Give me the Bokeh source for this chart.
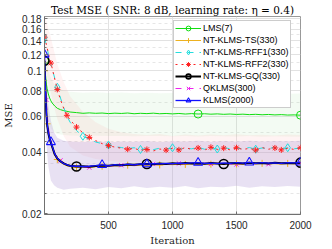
from bokeh.plotting import figure
from bokeh.models import (Range1d, FixedTicker, NumeralTickFormatter, Legend, LegendItem)
from bokeh.embed import file_html
from bokeh.resources import INLINE

# ---------------- data ----------------
iters = [0, 5, 10, 15, 20, 30, 40, 50, 60, 80, 100, 125, 150, 175, 200,
         250, 300, 350, 400, 450, 500, 550, 600, 650, 700, 750, 800, 850, 900, 950,
         1000, 1050, 1100, 1150, 1200, 1250, 1300, 1350, 1400, 1450, 1500, 1550,
         1600, 1650, 1700, 1750, 1800, 1850, 1900, 1950, 2000]

lms = [0.112, 0.100, 0.092, 0.086, 0.082, 0.077, 0.0735, 0.0712, 0.0695, 0.0672, 0.0655, 0.0645, 0.0638, 0.0633, 0.0628,
       0.0624, 0.0619, 0.0622, 0.0619, 0.0621, 0.0617, 0.0620, 0.0618, 0.0621, 0.0616, 0.0619, 0.0617, 0.0620, 0.0616, 0.0618,
       0.0615, 0.0618, 0.0614, 0.0617, 0.0614, 0.0616, 0.0613, 0.0615, 0.0612, 0.0614, 0.0611, 0.0613,
       0.0610, 0.0612, 0.0609, 0.0611, 0.0608, 0.0610, 0.0607, 0.0608, 0.0606]

ts = [0.100, 0.084, 0.070, 0.061, 0.055, 0.0490, 0.0460, 0.0440, 0.0420, 0.0386, 0.0368, 0.0356, 0.0348, 0.0343, 0.0340,
      0.0337, 0.0338, 0.0336, 0.0339, 0.0341, 0.0340, 0.0343, 0.0342, 0.0345, 0.0343, 0.0346, 0.0345, 0.0347, 0.0346, 0.0348,
      0.0347, 0.0349, 0.0348, 0.0350, 0.0348, 0.0350, 0.0349, 0.0351, 0.0349, 0.0351, 0.0350, 0.0348,
      0.0351, 0.0350, 0.0352, 0.0350, 0.0351, 0.0349, 0.0352, 0.0350, 0.0351]

rff1 = [0.145, 0.141, 0.137, 0.133, 0.129, 0.121, 0.114, 0.108, 0.102, 0.092, 0.083, 0.0735, 0.0660, 0.0600, 0.0560,
        0.0510, 0.0478, 0.0462, 0.0448, 0.0440, 0.0433, 0.0425, 0.0421, 0.0416, 0.0420, 0.0412, 0.0416, 0.0411, 0.0418, 0.0413,
        0.0420, 0.0414, 0.0417, 0.0415, 0.0422, 0.0413, 0.0419, 0.0414, 0.0421, 0.0415, 0.0418, 0.0414,
        0.0421, 0.0413, 0.0419, 0.0416, 0.0422, 0.0414, 0.0420, 0.0415, 0.0419]

rff2 = [0.146, 0.142, 0.138, 0.134, 0.130, 0.122, 0.115, 0.109, 0.103, 0.091, 0.081, 0.072, 0.0655, 0.0605, 0.0575,
        0.0530, 0.0497, 0.0472, 0.0455, 0.0440, 0.0430, 0.0423, 0.0418, 0.0413, 0.0417, 0.0408, 0.0412, 0.0405, 0.0414, 0.0409,
        0.0418, 0.0410, 0.0421, 0.0412, 0.0419, 0.0409, 0.0422, 0.0411, 0.0418, 0.0410, 0.0420, 0.0412,
        0.0417, 0.0409, 0.0421, 0.0413, 0.0419, 0.0410, 0.0418, 0.0412, 0.0420]

gq = [0.112, 0.088, 0.071, 0.061, 0.055, 0.0495, 0.0465, 0.0445, 0.0425, 0.0390, 0.0372, 0.0360, 0.0352, 0.0346, 0.0343,
      0.0340, 0.0341, 0.0339, 0.0342, 0.0344, 0.0343, 0.0346, 0.0345, 0.0348, 0.0347, 0.0349, 0.0350, 0.0349, 0.0352, 0.0350,
      0.0353, 0.0351, 0.0354, 0.0352, 0.0353, 0.0351, 0.0354, 0.0352, 0.0350, 0.0353, 0.0354, 0.0352,
      0.0355, 0.0353, 0.0354, 0.0352, 0.0355, 0.0353, 0.0354, 0.0353, 0.0355]

qklms = [0.118, 0.098, 0.082, 0.072, 0.062, 0.053, 0.0480, 0.0455, 0.0432, 0.0395, 0.0376, 0.0364, 0.0354, 0.0348, 0.0344,
         0.0340, 0.0338, 0.0336, 0.0340, 0.0342, 0.0344, 0.0341, 0.0345, 0.0347, 0.0344, 0.0348, 0.0347, 0.0350, 0.0349, 0.0351,
         0.0350, 0.0352, 0.0350, 0.0353, 0.0351, 0.0353, 0.0350, 0.0353, 0.0351, 0.0350, 0.0348, 0.0352,
         0.0353, 0.0351, 0.0354, 0.0349, 0.0353, 0.0352, 0.0354, 0.0351, 0.0354]

klms = [0.120, 0.090, 0.072, 0.062, 0.0555, 0.0498, 0.0468, 0.0448, 0.0427, 0.0392, 0.0373, 0.0361, 0.0351, 0.0347, 0.0342,
        0.0341, 0.0340, 0.0341, 0.0343, 0.0346, 0.0342, 0.0347, 0.0344, 0.0349, 0.0346, 0.0350, 0.0349, 0.0351, 0.0350, 0.0352,
        0.0351, 0.0353, 0.0352, 0.0354, 0.0355, 0.0352, 0.0353, 0.0351, 0.0354, 0.0352, 0.0355, 0.0353,
        0.0356, 0.0352, 0.0355, 0.0353, 0.0354, 0.0352, 0.0355, 0.0354, 0.0356]

# marker positions (iterations)
lms_mk = [0, 1200, 2000]
ts_mk = [0, 20, 100, 250, 450, 650, 900, 1100, 1300, 1500, 1700, 1900]
rff1_mk = [0, 100, 300, 500, 750, 1000, 1350, 1650, 1900]
rff2_mk = [0, 50, 100, 175, 250, 350, 500, 650, 800, 950, 1050, 1200, 1300, 1400, 1500, 1650, 1800, 1850, 2000]
gq_mk = [0, 250, 800, 1400, 2000]
qklms_mk = [0, 15, 125, 350, 600, 850, 1050, 1300, 1500, 1750, 2000]
klms_mk = [0, 50, 450, 800, 1200, 1600, 2000]

# shaded spread bands
band_it = [0, 10, 20, 30, 50, 75, 100, 150, 200, 300, 400, 500, 600, 700, 800, 900,
           1000, 1100, 1200, 1300, 1400, 1500, 1600, 1700, 1800, 1900, 2000]
grp_lo = [0.085, 0.050, 0.040, 0.034, 0.029, 0.0275, 0.0268, 0.0262, 0.0265, 0.0268, 0.0263, 0.0270, 0.0266, 0.0272,
          0.0267, 0.0271, 0.0268, 0.0273, 0.0266, 0.0271, 0.0269, 0.0274, 0.0268, 0.0272, 0.0270, 0.0273, 0.0271]
grp_hi = [0.16, 0.10, 0.080, 0.068, 0.057, 0.050, 0.047, 0.0455, 0.0450, 0.0448, 0.0452, 0.0447, 0.0451, 0.0449,
          0.0453, 0.0448, 0.0452, 0.0450, 0.0454, 0.0449, 0.0453, 0.0451, 0.0455, 0.0450, 0.0453, 0.0452, 0.0454]
rff_lo = [0.11, 0.10, 0.094, 0.088, 0.078, 0.066, 0.058, 0.048, 0.0425, 0.0385, 0.0370, 0.0362, 0.0358, 0.0360,
          0.0357, 0.0361, 0.0358, 0.0362, 0.0359, 0.0361, 0.0358, 0.0362, 0.0360, 0.0361, 0.0359, 0.0362, 0.0360]
rff_hi = [0.19, 0.18, 0.17, 0.16, 0.145, 0.125, 0.108, 0.088, 0.075, 0.063, 0.056, 0.052, 0.050, 0.049,
          0.0485, 0.049, 0.048, 0.0488, 0.0482, 0.0487, 0.0483, 0.0489, 0.0484, 0.0486, 0.0482, 0.0488, 0.0485]
lms_lo = [0.085, 0.068, 0.060, 0.056, 0.052, 0.050, 0.049, 0.0485, 0.0482, 0.0480, 0.0481, 0.0479, 0.0480, 0.0478,
          0.0480, 0.0479, 0.0478, 0.0480, 0.0477, 0.0479, 0.0478, 0.0477, 0.0479, 0.0476, 0.0478, 0.0477, 0.0476]
lms_hi = [0.14, 0.12, 0.11, 0.100, 0.092, 0.086, 0.083, 0.080, 0.079, 0.078, 0.0785, 0.0778, 0.0782, 0.0777,
          0.0780, 0.0776, 0.0779, 0.0775, 0.0778, 0.0774, 0.0777, 0.0773, 0.0776, 0.0772, 0.0775, 0.0771, 0.0773]

y_ticks = [0.02, 0.04, 0.06, 0.08, 0.1, 0.12, 0.14, 0.16, 0.18]
y_minor = [0.025, 0.035, 0.045, 0.05, 0.07, 0.09, 0.11, 0.13, 0.15, 0.17]
x_ticks = [500, 1000, 1500, 2000]

title_text = "Test MSE ( SNR: 8 dB, learning rate: \u03b7 = 0.4)"
x_label = "Iteration"
y_label = "MSE"

# ---------------- figure ----------------
p = figure(width=332, height=249, output_backend="svg", toolbar_location=None,
           x_range=Range1d(0, 2000), y_range=Range1d(0.0198, 0.1842), y_axis_type="log",
           min_border_left=43, min_border_right=32, min_border_top=16, min_border_bottom=35,
           title=title_text)
p.background_fill_color = "white"
p.border_fill_color = "white"
p.outline_line_color = "#999999"

p.title.text_font = "DejaVu Serif"
p.title.text_font_size = "10.5px"
p.title.text_font_style = "normal"
p.title.text_color = "#000000"
p.title.align = "center"
p.title.standoff = 2
p.title.offset = -2

# bands
p.varea(x=band_it, y1=lms_lo, y2=lms_hi, fill_color="#99dd99", fill_alpha=0.12)
p.varea(x=band_it, y1=rff_lo, y2=rff_hi, fill_color="#ff9999", fill_alpha=0.12)
p.varea(x=band_it, y1=grp_lo, y2=grp_hi, fill_color="#b39ad6", fill_alpha=0.30)


def series(vals, marks, color, dash, lw, marker, msize):
    lr = p.line(iters, vals, line_color=color, line_width=lw, line_dash=dash)
    mx = [it for it in iters if it in marks]
    my = [v for it, v in zip(iters, vals) if it in marks]
    sr = p.scatter(mx, my, marker=marker, size=msize, line_color=color,
                   line_width=max(1.0, lw * 0.8), fill_color=None)
    return [lr, sr]


r_lms = series(lms, lms_mk, "#11dd11", "solid", 1.0, "circle", 8)
r_ts = series(ts, ts_mk, "#EDB120", "solid", 1.0, "cross", 7)
r_rff1 = series(rff1, rff1_mk, "#22dddd", "dashed", 1.0, "diamond", 8)
r_rff2 = series(rff2, rff2_mk, "#ff2222", "dotted", 1.0, "asterisk", 6)
r_q = series(qklms, qklms_mk, "#ee22ee", "dashed", 1.0, "x", 6)
r_gq = series(gq, gq_mk, "#000000", "solid", 2.0, "circle", 9)
r_k = series(klms, klms_mk, "#1111ff", "solid", 1.3, "triangle", 9)

legend = Legend(items=[
    LegendItem(label="LMS(7)", renderers=r_lms),
    LegendItem(label="NT-KLMS-TS(330)", renderers=r_ts),
    LegendItem(label="NT-KLMS-RFF1(330)", renderers=r_rff1),
    LegendItem(label="NT-KLMS-RFF2(330)", renderers=r_rff2),
    LegendItem(label="NT-KLMS-GQ(330)", renderers=r_gq),
    LegendItem(label="QKLMS(300)", renderers=r_q),
    LegendItem(label="KLMS(2000)", renderers=r_k),
], location=(129, 106))
legend.label_text_font = "Liberation Sans"
legend.label_text_font_size = "9px"
legend.label_text_color = "#000000"
legend.label_height = 12
legend.glyph_height = 12
legend.glyph_width = 26
legend.label_standoff = 2
legend.spacing = 0
legend.padding = 1
legend.margin = 0
legend.border_line_color = "#999999"
legend.background_fill_alpha = 1.0
p.add_layout(legend)

# axes
p.xaxis.ticker = FixedTicker(ticks=x_ticks)
p.yaxis.ticker = FixedTicker(ticks=y_ticks, minor_ticks=y_minor)
p.yaxis.formatter = NumeralTickFormatter(format="0.[00]")
for ax in (p.xaxis, p.yaxis):
    ax.major_label_text_font = "Liberation Sans"
    ax.major_label_text_font_size = "10px"
    ax.major_label_text_color = "#262626"
    ax.axis_line_color = "#707070"
    ax.major_tick_line_color = "#707070"
    ax.minor_tick_line_color = "#707070"
    ax.major_tick_in = 3
    ax.major_tick_out = 0
    ax.minor_tick_in = 2
    ax.minor_tick_out = 0
    ax.axis_label_text_font = "DejaVu Serif"
    ax.axis_label_text_font_size = "10px"
    ax.axis_label_text_font_style = "normal"
    ax.axis_label_text_color = "#262626"
p.xaxis.axis_label = x_label
p.yaxis.axis_label = y_label
p.xaxis.major_label_standoff = 6
p.yaxis.major_label_standoff = 3
p.xaxis.axis_label_standoff = 3
p.yaxis.axis_label_standoff = 5

p.xgrid.grid_line_color = "#e2e2e2"
p.ygrid.grid_line_color = "#e2e2e2"
p.ygrid.minor_grid_line_color = "#e6e6e6"
p.ygrid.minor_grid_line_dash = "3 3"

open("out.html", "w").write(file_html(p, INLINE))
